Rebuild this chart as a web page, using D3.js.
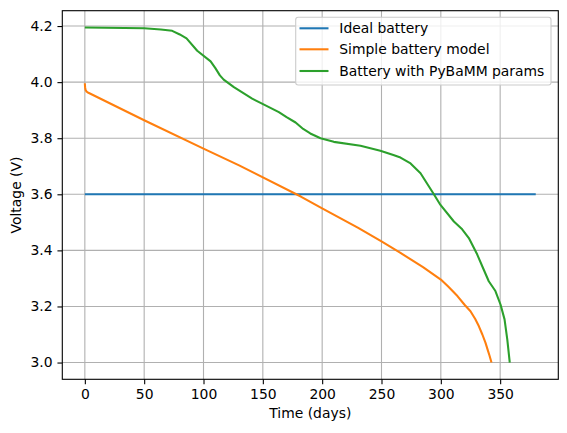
<!DOCTYPE html>
<html><head><meta charset="utf-8">
<script src="https://cdn.jsdelivr.net/npm/d3@7"></script>
<style>body{margin:0;background:#fff}svg{display:block}text{font-family:"DejaVu Sans",sans-serif;fill:#000}</style>
</head><body>
<svg id="c" width="567" height="433"></svg>
<script>
const seriesNames = ["Ideal battery", "Simple battery model", "Battery with PyBaMM params"];
const seriesColors = ["#1f77b4", "#ff7f0e", "#2ca02c"];
const idealDays = [0, 380];
const idealVolts = [3.6, 3.6];
const simpleDays = [0, 0.2, 0.6, 1.5, 3, 50, 100, 130, 182, 200, 230, 250, 266, 285, 300, 306, 314, 320, 325, 329, 332, 335, 337.6, 339.5, 341, 342.7];
const simpleVolts = [3.996, 3.982, 3.972, 3.966, 3.962, 3.864, 3.763, 3.703, 3.592, 3.550, 3.481, 3.432, 3.391, 3.340, 3.296, 3.272, 3.237, 3.206, 3.183, 3.155, 3.130, 3.100, 3.071, 3.045, 3.025, 3.0];
const pybammDays = [0, 50, 64, 73.6, 80, 85.7, 94.7, 106, 110, 113.8, 117, 125.6, 141, 151, 163.5, 170, 177.6, 184, 190, 198.6, 209.8, 232.3, 249, 260, 266, 274.5, 282.9, 294, 299.7, 311, 318, 323.6, 330.7, 336.2, 340.4, 346, 350.3, 353.7, 356, 358.1];
const pybammVolts = [4.195, 4.192, 4.188, 4.183, 4.170, 4.156, 4.112, 4.074, 4.050, 4.024, 4.009, 3.982, 3.941, 3.920, 3.893, 3.875, 3.856, 3.833, 3.817, 3.800, 3.787, 3.773, 3.755, 3.740, 3.731, 3.710, 3.675, 3.601, 3.562, 3.503, 3.475, 3.444, 3.385, 3.331, 3.290, 3.255, 3.207, 3.154, 3.083, 3.0];
const xTicks = [0, 50, 100, 150, 200, 250, 300, 350];
const yTicks = [3.0, 3.2, 3.4, 3.6, 3.8, 4.0, 4.2];
const xLabel = "Time (days)";
const yLabel = "Voltage (V)";

const L = 62.3, R = 558.3, T = 10.7, B = 379.3;
const fs = 13.9;
const svg = d3.select("#c");
const x = d3.scaleLinear().domain([-19, 399]).range([L, R]);
const y = d3.scaleLinear().domain([2.94025, 4.25475]).range([B, T]);

// grid
const g = svg.append("g");
g.selectAll("line.gx").data(xTicks).join("line")
  .attr("x1", d => x(d)).attr("x2", d => x(d)).attr("y1", T).attr("y2", B)
  .attr("stroke", "#b0b0b0").attr("stroke-width", 1.1);
g.selectAll("line.gy").data(yTicks).join("line")
  .attr("y1", d => y(d)).attr("y2", d => y(d)).attr("x1", L).attr("x2", R)
  .attr("stroke", "#b0b0b0").attr("stroke-width", 1.1);

// lines
const series = [
  idealDays.map((d, i) => [d, idealVolts[i]]),
  simpleDays.map((d, i) => [d, simpleVolts[i]]),
  pybammDays.map((d, i) => [d, pybammVolts[i]])
];
const line = d3.line().x(d => x(d[0])).y(d => y(d[1]));
svg.append("g").selectAll("path").data(series).join("path")
  .attr("d", line).attr("fill", "none")
  .attr("stroke", (d, i) => seriesColors[i]).attr("stroke-width", 2.08)
  .attr("stroke-linejoin", "round").attr("stroke-linecap", "butt");

// axes
const xAxis = svg.append("g").attr("transform", `translate(0,${B})`)
  .call(d3.axisBottom(x).tickValues(xTicks).tickFormat(d3.format("d")).tickSize(4.86).tickPadding(4.86));
const yAxis = svg.append("g").attr("transform", `translate(${L},0)`)
  .call(d3.axisLeft(y).tickValues(yTicks).tickFormat(d3.format(".1f")).tickSize(4.86).tickPadding(4.86));
[xAxis, yAxis].forEach(a => {
  a.select(".domain").remove();
  a.selectAll("line").attr("stroke", "#000").attr("stroke-width", 1.1);
  a.selectAll("text").attr("font-size", fs).attr("font-family", "DejaVu Sans").attr("fill", "#000");
});
svg.append("rect").attr("x", L).attr("y", T).attr("width", R - L).attr("height", B - T)
  .attr("fill", "none").attr("stroke", "#000").attr("stroke-width", 1.1);

// labels
svg.append("text").attr("x", (L + R) / 2).attr("y", 418).attr("text-anchor", "middle")
  .attr("font-size", fs).text(xLabel);
svg.append("text").attr("transform", `translate(20.5,${(T + B) / 2}) rotate(-90)`)
  .attr("text-anchor", "middle").attr("font-size", fs).text(yLabel);

// legend
const lg = svg.append("g");
lg.append("rect").attr("x", 295.7).attr("y", 17.3).attr("width", 255.3).attr("height", 67.7)
  .attr("rx", 2.5).attr("fill", "#fff").attr("fill-opacity", 0.8)
  .attr("stroke", "#cccccc").attr("stroke-width", 1.1);
const rowY = [28.3, 49.3, 71];
seriesNames.forEach((n, i) => {
  lg.append("line").attr("x1", 299.5).attr("x2", 328.5).attr("y1", rowY[i]).attr("y2", rowY[i])
    .attr("stroke", seriesColors[i]).attr("stroke-width", 2.08);
  lg.append("text").attr("x", 339.3).attr("y", rowY[i] + 4.8).attr("font-size", fs).text(n);
});
</script>
</body></html>
